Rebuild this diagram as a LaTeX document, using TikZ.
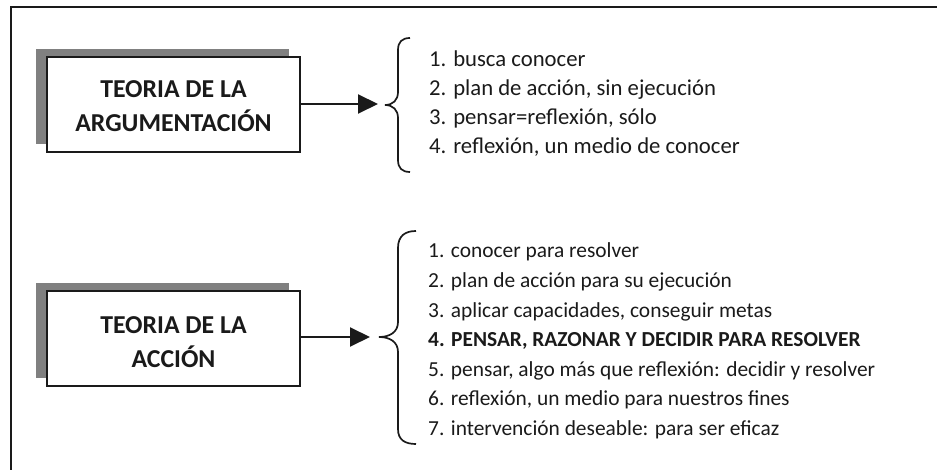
\documentclass[tikz,border=0pt]{standalone}
\usepackage{fontspec}
\setmainfont{Carlito}
\usetikzlibrary{arrows.meta,shadows}
\definecolor{shadowgray}{HTML}{808080}
\definecolor{ink}{HTML}{1A1A1A}
\begin{document}
\begin{tikzpicture}[x=1pt,y=-1pt,
  theorybox/.style={draw=ink, line width=2pt, fill=white, minimum width=253pt, minimum height=95pt,
    inner sep=0pt,
    drop shadow={shadow xshift=-11pt, shadow yshift=8pt, fill=shadowgray, opacity=1}},
  boxtext/.style={align=center, inner sep=0pt, text=ink, font=\bfseries\fontsize{25.8}{34}\selectfont},
  listone/.style={anchor=base west, inner sep=0pt, text=ink, font=\fontsize{22.7}{29}\selectfont},
  listtwo/.style={anchor=base west, inner sep=0pt, text=ink, font=\fontsize{21.4}{29}\selectfont},
  conn/.style={line width=2pt, draw=ink, -{Triangle[length=20pt,width=19pt]}},
  bracestyle/.style={line width=1.7pt, draw=ink}
]
\useasboundingbox (0,0) rectangle (937,470);
% outer frame (only top and left edges visible)
\draw[line width=2pt, draw=ink] (11,470) -- (11,7) -- (937,7);

% boxes
\node[theorybox] (arg) at (173.5,104.5) {};
\node[boxtext] (argtext) at ([shift={(0,1.3)}]arg.center) {TEORIA DE LA\\ARGUMENTACIÓN};
\node[theorybox] (acc) at (173.5,338.5) {};
\node[boxtext] (acctext) at ([shift={(0,3.5)}]acc.center) {TEORIA DE LA\\ACCIÓN};

% braces
\coordinate (t1) at (385,105);
\coordinate (a1) at (378,104);
\draw[bracestyle] (410,38) .. controls (402,38) and (398,42) .. (398,50) -- (398,92)
  .. controls (398,100) and (393,105) .. (t1)
  .. controls (393,105) and (398,110) .. (398,118) -- (398,160)
  .. controls (398,168) and (402,172) .. (410,172);

\coordinate (t2) at (379,337);
\coordinate (a2) at (370,337);
\draw[bracestyle] (416,231) .. controls (405,231) and (398,236) .. (398,248) -- (398,322)
  .. controls (398,332) and (390,337) .. (t2)
  .. controls (390,337) and (398,342) .. (398,352) -- (398,429)
  .. controls (398,440) and (405,444) .. (416,444);

% connectors
\draw[conn] (arg.east |- a1) -- (a1);
\draw[conn] (acc.east |- a2) -- (a2);

% list 1
\foreach \txt [count=\i from 0] in {1. busca conocer, {2. plan de acción, sin ejecución}, {3. pensar=reflexión, sólo}, {4. reflexión, un medio de conocer}}
  \node[listone] (la\i) at (429,67+28.7*\i) {\txt};

% list 2
\foreach \txt [count=\i from 0] in {1. conocer para resolver, 2. plan de acción para su ejecución, {3. aplicar capacidades, conseguir metas}, {\bfseries 4. PENSAR, RAZONAR Y DECIDIR PARA RESOLVER}, {5. pensar, algo más que reflexión: decidir y resolver}, {6. reflexión, un medio para nuestros fines}, 7. intervención deseable: para ser eficaz}
  \node[listtwo] (lb\i) at (428,258+29.5*\i) {\txt};
\end{tikzpicture}
\end{document}
